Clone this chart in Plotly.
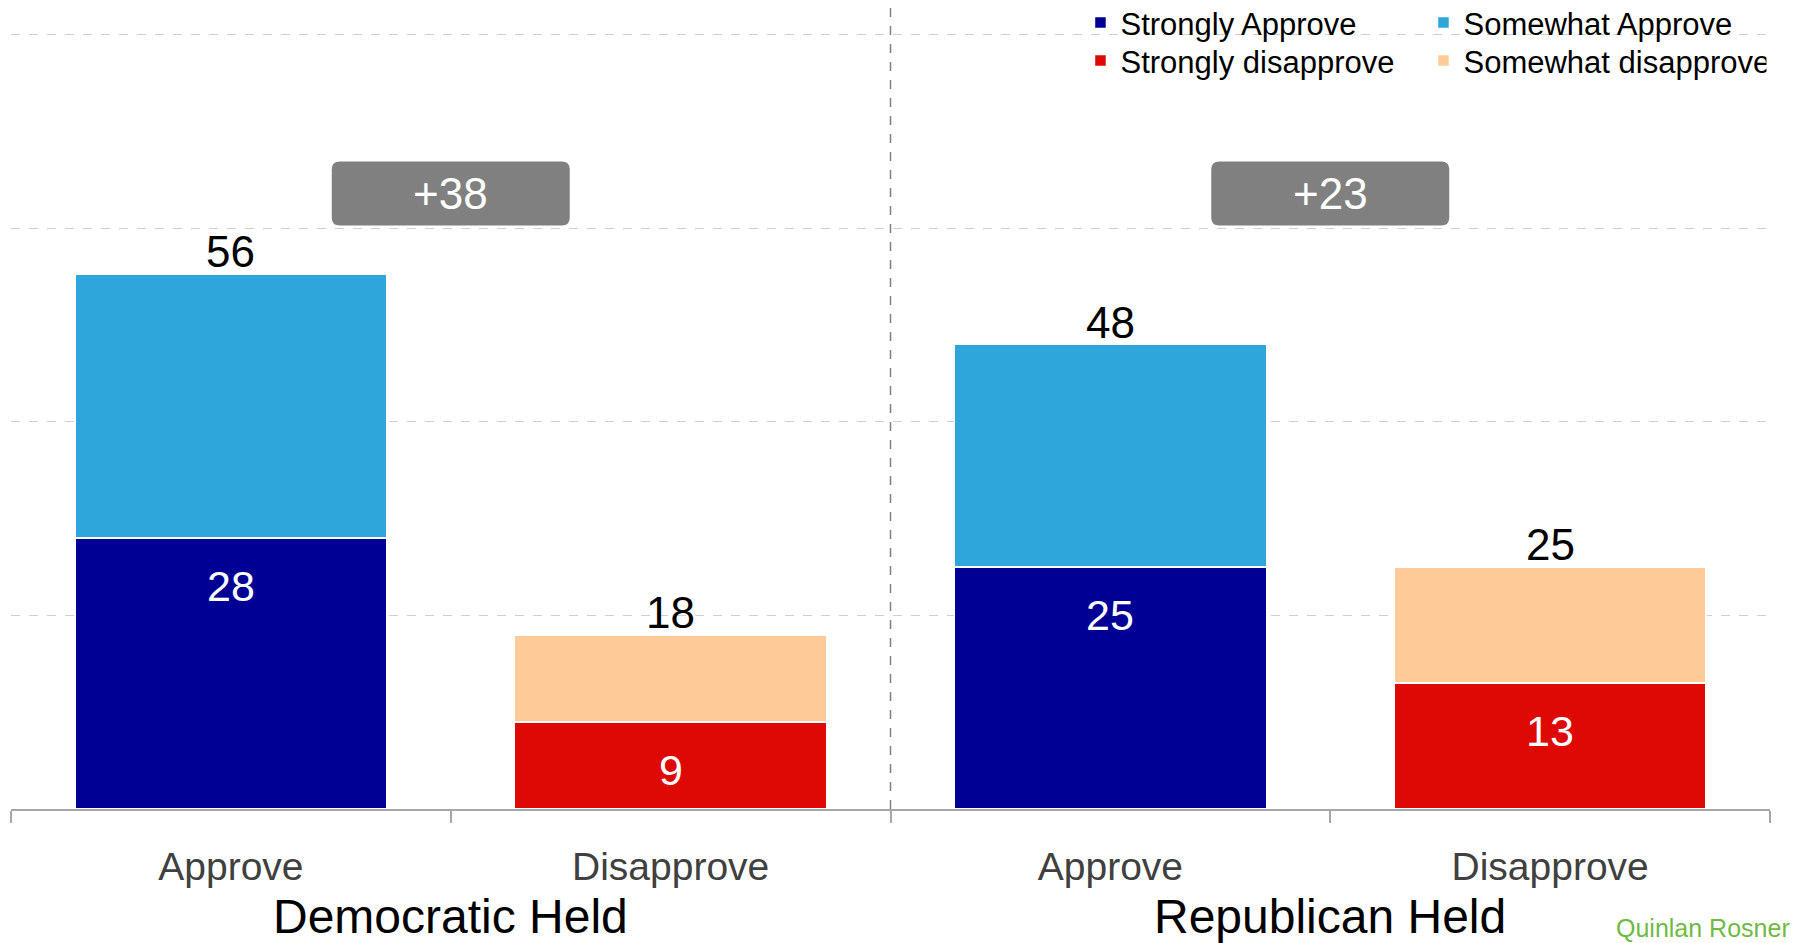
import plotly.graph_objects as go

# data
groups = ["Democratic Held", "Republican Held"]
sides = ["Approve", "Disapprove"]
strongly_approve = [28, None, 25, None]
somewhat_approve = [27.3, None, 23, None]
strongly_disapprove = [None, 9, None, 13]
somewhat_disapprove = [None, 9, None, 12]
shown_totals = [56, 18, 48, 25]
shown_inner = [28, 9, 25, 13]
y_grid = [20, 40, 60, 80]

FONT = "Liberation Sans, Arial, sans-serif"
x_keys = [g + " " + s for g in groups for s in sides]
tick_text = [s for g in groups for s in sides]

fig = go.Figure()

def add_bar(name, vals, color, legend):
    fig.add_trace(go.Bar(
        x=x_keys, y=vals, name=name, legend=legend,
        marker=dict(color=color, line=dict(color="white", width=1.5)),
        width=0.71, hoverinfo="skip",
    ))

add_bar("Strongly Approve", strongly_approve, "#000094", "legend")
add_bar("Somewhat Approve", somewhat_approve, "#2EA6DC", "legend")
add_bar("Strongly disapprove", strongly_disapprove, "#DE0805", "legend2")
add_bar("Somewhat disapprove", somewhat_disapprove, "#FECB98", "legend2")

# totals above each stack, inner values inside the bottom segment
for i, key in enumerate(x_keys):
    segs = [strongly_approve[i], somewhat_approve[i],
            strongly_disapprove[i], somewhat_disapprove[i]]
    top = sum(v for v in segs if v is not None)
    bottom = strongly_approve[i] if strongly_approve[i] is not None else strongly_disapprove[i]
    fig.add_annotation(x=key, y=top, text=str(shown_totals[i]), showarrow=False,
                       yanchor="bottom", yshift=-4,
                       font=dict(family=FONT, size=44, color="black"))
    fig.add_annotation(x=key, y=bottom, text=str(shown_inner[i]), showarrow=False,
                       yanchor="top", yshift=-22,
                       font=dict(family=FONT, size=43, color="white"))

# net difference badges and group titles
box_path = ("M -111,32 L 111,32 Q 119,32 119,24 L 119,-24 Q 119,-32 111,-32 "
            "L -111,-32 Q -119,-32 -119,-24 L -119,24 Q -119,32 -111,32 Z")
for g_idx, g in enumerate(groups):
    net = shown_totals[2 * g_idx] - shown_totals[2 * g_idx + 1]
    xc = 2 * g_idx + 0.5
    fig.add_shape(type="path", path=box_path, xref="x", yref="y",
                  xsizemode="pixel", ysizemode="pixel",
                  xanchor=xc, yanchor=63.6,
                  fillcolor="#808080", line=dict(width=0), layer="above")
    fig.add_annotation(x=xc, y=63.6, text="+%d" % net, showarrow=False,
                       font=dict(family=FONT, size=44, color="white"))
    fig.add_annotation(x=xc, y=0, text=g, showarrow=False, yref="y",
                       yanchor="middle", yshift=-107,
                       font=dict(family=FONT, size=48, color="black"))

# vertical separator between the two groups
fig.add_shape(type="line", x0=1.5, x1=1.5, y0=0, y1=1, xref="x", yref="paper",
              line=dict(color="#808080", width=1.5, dash="dash"), layer="below")

fig.add_annotation(text="Quinlan Rosner", x=1, y=0, xref="paper", yref="paper",
                   xanchor="right", yanchor="middle", showarrow=False,
                   xshift=22, yshift=-119,
                   font=dict(family=FONT, size=25, color="#6FBA44"))

legend_style = dict(orientation="h", xref="paper", yref="paper",
                    x=0.608, xanchor="left", yanchor="top",
                    entrywidth=298, entrywidthmode="pixels", traceorder="normal",
                    font=dict(family=FONT, size=31, color="black"),
                    bgcolor="rgba(0,0,0,0)", itemclick=False)

fig.update_layout(
    barmode="stack",
    width=1793, height=943,
    margin=dict(l=11, r=23, t=0, b=134, autoexpand=False),
    paper_bgcolor="white", plot_bgcolor="white",
    font=dict(family=FONT),
    legend=dict(legend_style, y=1.005),
    legend2=dict(legend_style, y=1.005 - 38 / 809),
    xaxis=dict(type="category", categoryorder="array", categoryarray=x_keys,
               tickvals=x_keys, ticktext=tick_text, range=[-0.5, 3.5],
               tickson="boundaries", ticks="outside", ticklen=12, tickwidth=1.5,
               tickcolor="#a6a6a6", showline=True, linecolor="#a6a6a6", linewidth=2,
               showgrid=False, ticklabelstandoff=22,
               tickfont=dict(family=FONT, size=39, color="#404040")),
    yaxis=dict(range=[0, 83.6], tickvals=y_grid, showticklabels=False,
               showgrid=True, gridcolor="#d0d0d0", griddash="dash", gridwidth=1,
               zeroline=False, showline=False, fixedrange=True),
)

# drop the default page margin so the figure fills the window exactly
fig.write_html("out.html", config={"displayModeBar": False},
               post_script="document.body.style.margin='0';document.body.style.overflow='hidden';")
